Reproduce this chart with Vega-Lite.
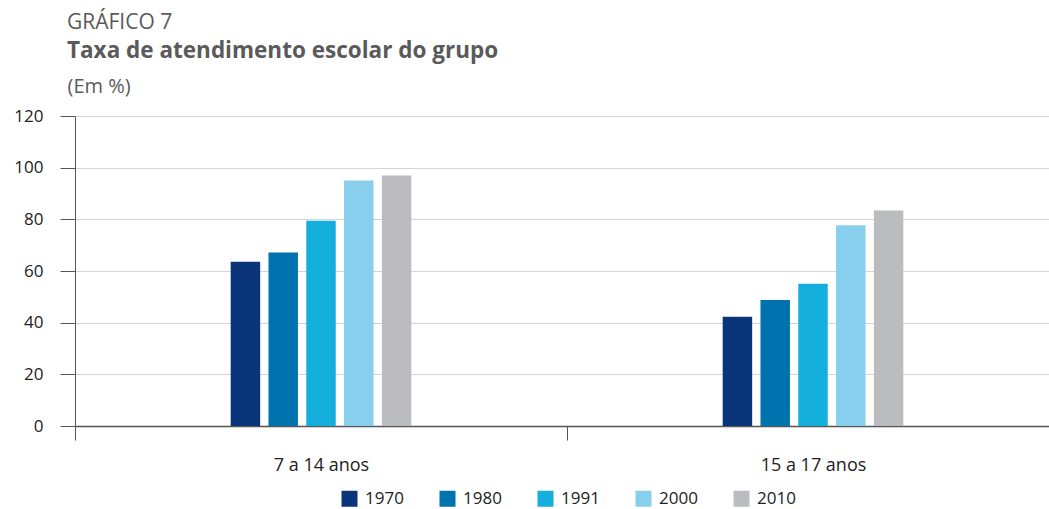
{
  "$schema": "https://vega.github.io/schema/vega-lite/v6.json",
  "autosize": {"type": "none"},
  "width": 974,
  "height": 310,
  "padding": {"left": 75, "top": 116, "right": 0, "bottom": 83},
  "background": "white",
  "config": {
    "font": "Open Sans",
    "view": {"stroke": null}
  },
  "title": {
    "text": "GRÁFICO 7",
    "subtitle": "Taxa de atendimento escolar do grupo",
    "anchor": "start",
    "frame": "group",
    "dx": -8,
    "offset": 14,
    "font": "Open Sans",
    "fontSize": 21,
    "fontWeight": "normal",
    "color": "#5a5a5a",
    "subtitleFont": "Open Sans",
    "subtitleFontSize": 22.5,
    "subtitleFontWeight": "bold",
    "subtitleColor": "#5a5a5a",
    "subtitlePadding": 7
  },
  "data": {
    "values": [
      {"grupo": "7 a 14 anos", "ano": "1970", "taxa": 63.6},
      {"grupo": "7 a 14 anos", "ano": "1980", "taxa": 67.2},
      {"grupo": "7 a 14 anos", "ano": "1991", "taxa": 79.5},
      {"grupo": "7 a 14 anos", "ano": "2000", "taxa": 95.0},
      {"grupo": "7 a 14 anos", "ano": "2010", "taxa": 97.0},
      {"grupo": "15 a 17 anos", "ano": "1970", "taxa": 42.3},
      {"grupo": "15 a 17 anos", "ano": "1980", "taxa": 48.8},
      {"grupo": "15 a 17 anos", "ano": "1991", "taxa": 55.1},
      {"grupo": "15 a 17 anos", "ano": "2000", "taxa": 77.7},
      {"grupo": "15 a 17 anos", "ano": "2010", "taxa": 83.4}
    ]
  },
  "mark": {"type": "bar"},
  "encoding": {
    "x": {
      "field": "grupo",
      "type": "nominal",
      "sort": ["7 a 14 anos", "15 a 17 anos"],
      "scale": {"range": [0, 984], "paddingInner": 0, "paddingOuter": 0},
      "axis": {
        "title": null,
        "labelAngle": 0,
        "labelFontSize": 18,
        "labelColor": "#222222",
        "labelPadding": 16,
        "tickBand": "extent",
        "tickSize": 14,
        "tickColor": "#555555",
        "tickWidth": 1,
        "domainColor": "#555555",
        "domainWidth": 1.5
      }
    },
    "xOffset": {
      "field": "ano",
      "type": "nominal",
      "scale": {
        "domain": ["p1", "p2", "p3", "p4", "1970", "1980", "1991", "2000", "2010", "q1", "q2", "q3", "q4"],
        "paddingInner": 0.22,
        "paddingOuter": 0.12
      }
    },
    "y": {
      "field": "taxa",
      "type": "quantitative",
      "scale": {"domain": [0, 120]},
      "axis": {
        "title": "(Em %)",
        "titleAngle": 0,
        "titleAlign": "left",
        "titleBaseline": "alphabetic",
        "titleX": -8,
        "titleY": -24,
        "titleFont": "Open Sans",
        "titleFontSize": 20,
        "titleFontWeight": "normal",
        "titleColor": "#5a5a5a",
        "values": [0, 20, 40, 60, 80, 100, 120],
        "labelFontSize": 17,
        "labelColor": "#222222",
        "labelPadding": 17,
        "tickSize": 15,
        "tickColor": "#555555",
        "domainColor": "#555555",
        "gridColor": "#d4d4d4",
        "gridWidth": 1
      }
    },
    "color": {
      "field": "ano",
      "type": "nominal",
      "scale": {
        "domain": ["1970", "1980", "1991", "2000", "2010"],
        "range": ["#0b357b", "#0072ad", "#14afdd", "#88cfee", "#bbbcc0"]
      },
      "legend": {
        "title": null,
        "orient": "none",
        "legendX": 266,
        "legendY": 374,
        "direction": "horizontal",
        "symbolType": "square",
        "symbolSize": 256,
        "symbolStrokeWidth": 0,
        "labelFontSize": 17,
        "labelColor": "#222222",
        "labelOffset": 7,
        "columnPadding": 35
      }
    }
  }
}
